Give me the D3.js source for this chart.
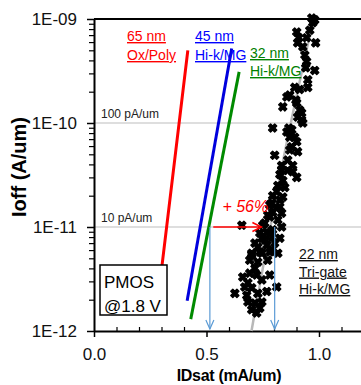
<!DOCTYPE html>
<html>
<head>
<meta charset="utf-8">
<script src="https://cdn.jsdelivr.net/npm/d3@7"></script>
<style>
  body { margin: 0; background: #fff; }
  svg { display: block; font-family: Arial, "Liberation Sans", sans-serif; }
</style>
</head>
<body>
<div id="chart"></div>
<script>
// lines: [IDsat (mA/um), Ioff (A/um)]
const ox65 = [[0.315, 2.9e-12], [0.293, 2.9e-12], [0.417, 5.0e-10]];
const hk45 = [[0.414, 1.95e-12], [0.612, 5.2e-10]];
const hk32 = [[0.430, 1.3e-12], [0.645, 3.1e-10]];
const trend22 = [[0.700, 1.0e-12], [0.860, 7.0e-11], [0.975, 1.0e-09]];

// 22 nm tri-gate devices
const trigate22 = [
  [0.968, 1.02e-9], [0.981, 9.8e-10], [0.972, 9.2e-10], [0.959, 7.8e-10], [0.901, 7.5e-10],
  [0.910, 6.6e-10], [0.945, 6.6e-10], [0.985, 5.9e-10], [0.928, 5.4e-10], [0.905, 5.9e-10],
  [0.937, 4.5e-10], [0.945, 3.9e-10], [0.941, 3.4e-10], [0.981, 3.2e-10], [0.950, 2.6e-10],
  [0.950, 2.2e-10], [0.914, 2.1e-10], [0.892, 2.2e-10], [0.870, 1.86e-10], [0.857, 1.78e-10],
  [0.839, 1.43e-10], [0.897, 1.66e-10], [0.901, 1.56e-10], [0.914, 1.33e-10], [0.923, 1.25e-10],
  [0.905, 1.14e-10], [0.928, 1.0e-10], [0.794, 8.95e-11], [0.866, 8.95e-11], [0.923, 1.07e-10],
  [0.879, 8.6e-11], [0.857, 8.2e-11], [0.892, 7.3e-11], [0.870, 7.3e-11], [0.901, 6.6e-11],
  [0.879, 5.9e-11], [0.870, 5.5e-11], [0.905, 5.3e-11], [0.803, 4.9e-11], [0.861, 4.4e-11],
  [0.883, 3.9e-11], [0.834, 3.9e-11], [0.834, 3.5e-11], [0.826, 3.2e-11], [0.861, 3.5e-11],
  [0.883, 3.4e-11], [0.901, 3.0e-11], [0.839, 2.8e-11], [0.817, 2.5e-11], [0.848, 2.4e-11],
  [0.812, 2.2e-11], [0.794, 2.0e-11], [0.839, 1.94e-11], [0.826, 1.82e-11], [0.790, 1.7e-11],
  [0.781, 1.63e-11], [0.826, 1.56e-11], [0.812, 1.52e-11], [0.794, 1.39e-11], [0.834, 1.36e-11],
  [0.772, 1.3e-11], [0.781, 1.25e-11], [0.817, 1.17e-11], [0.759, 1.09e-11], [0.750, 1.04e-11],
  [0.657, 1.04e-11], [0.834, 1.0e-11], [0.768, 8.95e-12], [0.794, 9.4e-12], [0.737, 8.75e-12],
  [0.781, 8.75e-12], [0.746, 7.8e-12], [0.790, 8.0e-12], [0.826, 7.8e-12], [0.759, 7.5e-12],
  [0.715, 7.0e-12], [0.768, 6.7e-12], [0.803, 7.0e-12], [0.728, 6.4e-12], [0.790, 6.0e-12],
  [0.737, 5.75e-12], [0.701, 5.6e-12], [0.746, 5.6e-12], [0.781, 5.75e-12], [0.817, 5.6e-12],
  [0.701, 5.4e-12], [0.692, 4.8e-12], [0.728, 4.6e-12], [0.772, 4.8e-12], [0.715, 4.0e-12],
  [0.661, 3.3e-12], [0.692, 3.6e-12], [0.723, 3.45e-12], [0.781, 3.45e-12], [0.746, 3.1e-12],
  [0.684, 2.9e-12], [0.812, 2.65e-12], [0.626, 2.3e-12], [0.670, 2.65e-12], [0.701, 2.6e-12],
  [0.679, 2.2e-12], [0.728, 2.3e-12], [0.768, 2.4e-12], [0.684, 1.9e-12], [0.715, 1.86e-12],
  [0.746, 1.9e-12], [0.701, 1.6e-12], [0.723, 1.49e-12], [0.737, 1.66e-12]
];

const refLevels = [1e-10, 1e-11];
const refLabels = ["100 pA/um", "10 pA/um"];
const dropArrows = [0.515, 0.803];      // IDsat at 10 pA/um, 32 nm vs 22 nm
const gainArrow = [0.530, 0.744];
const gainLabel = "+ 56%";

const xTicks = [0, 0.5, 1.0];
const xMinor = d3.range(1, 12).map(d => d / 10);
const yTicks = [1e-12, 1e-11, 1e-10, 1e-9];

const width = 361, height = 385;

const svg = d3.select("#chart").append("svg")
  .attr("width", width)
  .attr("height", height);

const x = d3.scaleLinear().domain([0, 1.2]).range([94, 364]);
const y = d3.scaleLog().domain([1e-12, 1e-9]).range([331, 19]);

// reference gridlines
svg.selectAll("line.ref")
  .data(refLevels)
  .enter().append("line")
  .attr("class", "ref")
  .attr("x1", x(0)).attr("x2", x(1.2))
  .attr("y1", d => y(d)).attr("y2", d => y(d))
  .style("stroke", "#bdbdbd")
  .style("stroke-width", 1);

svg.selectAll("text.ref")
  .data(refLevels)
  .enter().append("text")
  .attr("class", "ref")
  .attr("x", x(0) + 7)
  .attr("y", d => y(d) - 5)
  .style("font-size", "12px")
  .style("fill", "#222")
  .text((d, i) => refLabels[i]);

// y axis
const yMinorVals = [];
yTicks.slice(0, -1).forEach(t => { for (let k = 2; k < 10; k++) yMinorVals.push(t * k); });

svg.append("g")
  .attr("transform", `translate(${x(0)},0)`)
  .call(d3.axisLeft(y).tickValues(yMinorVals).tickSize(5).tickFormat(""))
  .call(g => g.select(".domain").remove())
  .selectAll("line").style("stroke-width", 1.2);

svg.append("g")
  .attr("transform", `translate(${x(0)},0)`)
  .call(d3.axisLeft(y).tickValues(yTicks).tickSize(7).tickSizeOuter(0).tickPadding(10)
    .tickFormat(d => "1E-" + String(-Math.round(Math.log10(d))).padStart(2, "0")))
  .call(g => g.select(".domain").style("stroke-width", 2))
  .call(g => g.selectAll("line").style("stroke-width", 1.5))
  .selectAll("text")
  .style("font-size", "17px")
  .style("font-family", "Arial, 'Liberation Sans', sans-serif")
  .style("fill", "#111");

// x axis
svg.append("g")
  .attr("transform", `translate(0,${y(1e-12)})`)
  .call(d3.axisTop(x).tickValues(xMinor.filter(d => Math.abs(d - 0.5) > 1e-6 && Math.abs(d - 1) > 1e-6)).tickSize(4).tickFormat(""))
  .call(g => g.select(".domain").remove())
  .selectAll("line").style("stroke-width", 1.2);

svg.append("g")
  .attr("transform", `translate(0,${y(1e-12)})`)
  .call(d3.axisBottom(x).tickValues(xTicks).tickSize(6).tickSizeOuter(0).tickPadding(11).tickFormat(d3.format(".1f")))
  .call(g => g.select(".domain").style("stroke-width", 2))
  .call(g => g.selectAll("line").style("stroke-width", 1.5))
  .selectAll("text")
  .style("font-size", "17px")
  .style("font-family", "Arial, 'Liberation Sans', sans-serif")
  .style("fill", "#111");

// top frame
svg.append("line")
  .attr("x1", x(0)).attr("x2", x(1.2))
  .attr("y1", y(1e-9)).attr("y2", y(1e-9))
  .style("stroke", "#000")
  .style("stroke-width", 2);

// axis titles
svg.append("text")
  .attr("transform", `translate(26,${(y(1e-9) + y(1e-12)) / 2 - 8}) rotate(-90)`)
  .style("text-anchor", "middle")
  .style("font-size", "20px")
  .style("font-weight", "bold")
  .text("Ioff (A/um)");

svg.append("text")
  .attr("x", 229)
  .attr("y", 381)
  .style("text-anchor", "middle")
  .style("font-size", "16px")
  .style("font-weight", "bold")
  .style("letter-spacing", "-0.3px")
  .text("IDsat (mA/um)");

// technology lines
const line = d3.line().x(d => x(d[0])).y(d => y(d[1]));

svg.append("path").datum(trend22)
  .attr("d", line.curve(d3.curveMonotoneY))
  .style("fill", "none").style("stroke", "#b8b8b8").style("stroke-width", 2.5);
line.curve(d3.curveLinear);

[[ox65, "#ff0000"], [hk45, "#0000dd"], [hk32, "#008a00"]].forEach(([pts, c]) => {
  svg.append("path").datum(pts)
    .attr("d", line)
    .style("fill", "none").style("stroke", c).style("stroke-width", 3);
});

// 22 nm scatter
const mark = d3.symbol().type(d3.symbolCross).size(42);
svg.selectAll("path.dev")
  .data(trigate22)
  .enter().append("path")
  .attr("class", "dev")
  .attr("transform", d => `translate(${x(d[0])},${y(d[1])}) rotate(45)`)
  .attr("d", mark)
  .style("fill", "#000")
  .style("stroke", "#000")
  .style("stroke-width", 1.3)
  .style("stroke-linejoin", "round");

// arrows
const arrowBlue = "#5b9bd5";
dropArrows.forEach(v => {
  const ax = x(v), y0 = y(1e-11), y1 = y(1e-12) - 2;
  svg.append("line")
    .attr("x1", ax).attr("x2", ax).attr("y1", y0).attr("y2", y1)
    .style("stroke", arrowBlue).style("stroke-width", 1.2);
  svg.append("path")
    .attr("d", `M${ax - 4},${y1 - 9}L${ax},${y1}L${ax + 4},${y1 - 9}`)
    .style("fill", "none").style("stroke", arrowBlue).style("stroke-width", 1.2);
});

{
  const gy = y(1e-11), gx0 = x(gainArrow[0]), gx1 = x(gainArrow[1]);
  svg.append("line")
    .attr("x1", gx0).attr("x2", gx1).attr("y1", gy).attr("y2", gy)
    .style("stroke", "#ff0000").style("stroke-width", 1.5);
  svg.append("path")
    .attr("d", `M${gx1 - 9},${gy - 4.5}L${gx1},${gy}L${gx1 - 9},${gy + 4.5}`)
    .style("fill", "none").style("stroke", "#ff0000").style("stroke-width", 1.5);
  svg.append("text")
    .attr("x", (gx0 + gx1) / 2 + 8)
    .attr("y", gy - 15)
    .style("text-anchor", "middle")
    .style("font-size", "16px")
    .style("font-style", "italic")
    .style("fill", "#ff0000")
    .text(gainLabel);
}

// node labels
function label(lines, px, py, color, step) {
  lines.forEach((t, i) => {
    svg.append("text")
      .attr("x", px)
      .attr("y", py + i * step)
      .style("font-size", "14px")
      .style("fill", color)
      .style("text-decoration", "underline")
      .text(t);
  });
}
label(["65 nm", "Ox/Poly"], 127, 41, "#ff0000", 19);
label(["45 nm", "Hi-k/MG"], 195, 41, "#0000ff", 19);
label(["32 nm", "Hi-k/MG"], 250, 58, "#008000", 18);
label(["22 nm", "Tri-gate", "Hi-k/MG"], 299, 259, "#111", 17.5);

// condition box
svg.append("rect")
  .attr("x", 100).attr("y", 265)
  .attr("width", 67).attr("height", 50)
  .style("fill", "#fff").style("stroke", "#000").style("stroke-width", 1.5);
svg.append("text").attr("x", 104).attr("y", 288)
  .style("font-size", "17px").text("PMOS");
svg.append("text").attr("x", 104).attr("y", 312)
  .style("font-size", "17px").text("@1.8 V");
</script>
</body>
</html>
